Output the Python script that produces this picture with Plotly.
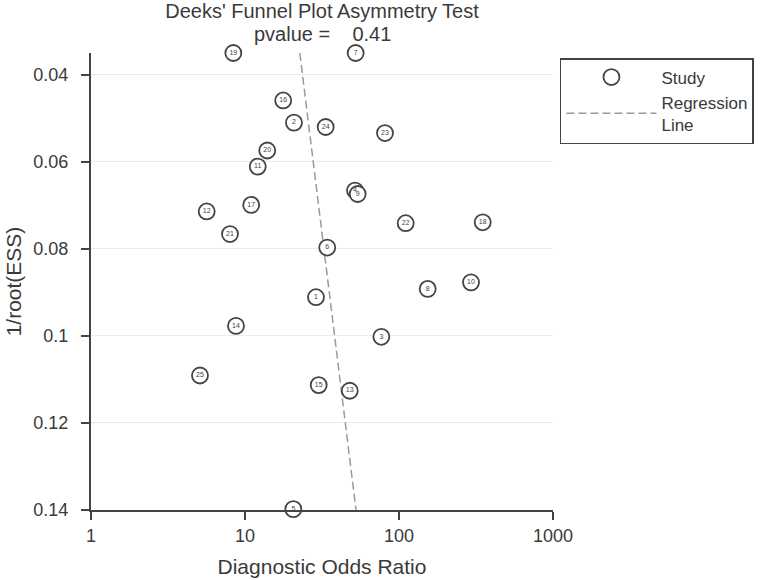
import plotly.graph_objects as go

# ---- data ----
study_ids = ["1", "2", "3", "4", "5", "6", "7", "8", "9", "10", "11", "12", "13",
             "14", "15", "16", "17", "18", "19", "20", "21", "22", "23", "24", "25"]
dor = [28.9, 20.8, 76.8, 51.8, 20.6, 34.2, 52.3, 153.6, 53.9, 293.5, 12.1, 5.64, 47.9,
       8.74, 30.1, 17.7, 10.97, 349.6, 8.40, 13.95, 7.99, 110.5, 81.1, 33.4, 5.10]
inv_root_ess = [0.0911, 0.0510, 0.1002, 0.0666, 0.1398, 0.0797, 0.0350, 0.0892, 0.0674,
                0.0877, 0.0611, 0.0714, 0.1126, 0.0977, 0.1113, 0.0459, 0.0699, 0.0739,
                0.0350, 0.0574, 0.0766, 0.0741, 0.0534, 0.0520, 0.1091]

reg_dor = [22.7, 52.6]
reg_y = [0.035, 0.14]

x_tick_vals = [1, 10, 100, 1000]
x_tick_text = ["1", "10", "100", "1000"]
y_tick_vals = [0.04, 0.06, 0.08, 0.10, 0.12, 0.14]
y_tick_text = ["0.04", "0.06", "0.08", "0.1", "0.12", "0.14"]

title_line1 = "Deeks' Funnel Plot Asymmetry Test"
title_line2 = "pvalue =\u00a0\u00a0\u00a0\u00a00.41"
font_family = "Liberation Sans, Arial, Helvetica, sans-serif"
ink = "#3a3a3a"

fig = go.Figure()

fig.add_trace(go.Scatter(
    x=reg_dor, y=reg_y, mode="lines", name="Regression<br>Line",
    line=dict(color="#9a9a9a", width=1.5, dash="8px,4px"),
    legendrank=2, cliponaxis=False, hoverinfo="skip",
))

fig.add_trace(go.Scatter(
    x=dor, y=inv_root_ess, mode="markers", name="Study",
    marker=dict(symbol="circle", size=16, color="white",
                line=dict(color="#444444", width=1.8)),
    legendrank=1, cliponaxis=False,
))

fig.add_trace(go.Scatter(
    x=dor, y=inv_root_ess, mode="text", text=study_ids,
    textposition="middle center",
    textfont=dict(size=7, color="#444444", family=font_family),
    showlegend=False, cliponaxis=False, hoverinfo="skip",
))

fig.update_layout(
    width=760, height=580,
    margin=dict(l=91, r=207, t=53, b=70, autoexpand=False),
    paper_bgcolor="white", plot_bgcolor="white",
    font=dict(family=font_family, color=ink, size=17),
    title=dict(text=title_line1, x=0.5, xref="paper", xanchor="center",
               y=0.993, yref="container", yanchor="top",
               font=dict(size=20, color=ink)),
    annotations=[dict(text=title_line2, x=0.5, xref="paper", xanchor="center",
                      y=(510 - 34) / 457, yref="paper", yanchor="middle",
                      showarrow=False, font=dict(size=20, color=ink))],
    xaxis=dict(
        type="log", range=[0, 3], automargin=False,
        tickvals=x_tick_vals, ticktext=x_tick_text,
        showgrid=False, zeroline=False,
        showline=True, linecolor="#444444", linewidth=2,
        ticks="outside", ticklen=8, tickwidth=1.5, tickcolor="#444444",
        tickfont=dict(size=18),
        title=dict(text="Diagnostic Odds Ratio", font=dict(size=21), standoff=15),
    ),
    yaxis=dict(
        range=[0.14, 0.035], automargin=False,
        tickvals=y_tick_vals, ticktext=y_tick_text,
        showgrid=True, gridcolor="#ececec", gridwidth=1, zeroline=False,
        showline=True, linecolor="#444444", linewidth=2,
        ticks="outside", ticklen=8, tickwidth=1.5, tickcolor="#444444",
        tickfont=dict(size=18), ticklabelstandoff=9,
        title=dict(text="1/root(ESS)", font=dict(size=21), standoff=6),
    ),
    legend=dict(
        x=1.015, y=0.989, xanchor="left", yanchor="top",
        bordercolor="#444444", borderwidth=1.5, bgcolor="white",
        font=dict(size=17), itemwidth=90, tracegroupgap=0,
    ),
    showlegend=True,
)

fig.write_html("out.html", config={"displayModeBar": False},
               post_script="document.body.style.margin='0';")
